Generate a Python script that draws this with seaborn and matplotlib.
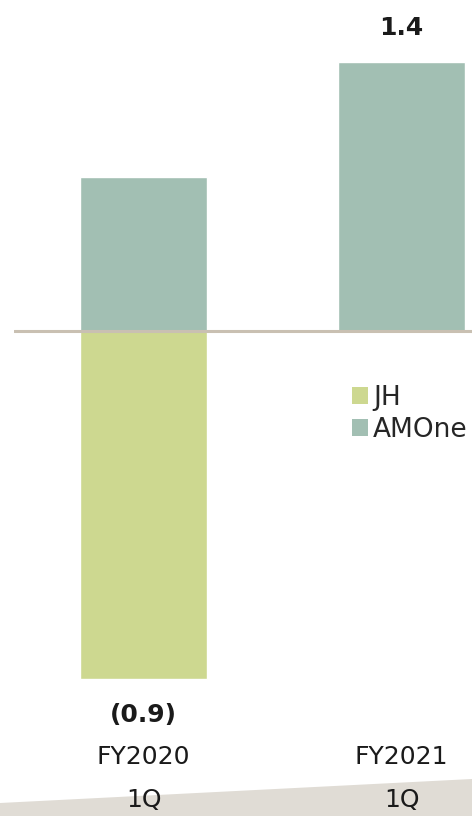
import matplotlib
matplotlib.use("Agg")
import matplotlib.pyplot as plt
import seaborn as sns
import pandas as pd
from matplotlib.patches import Polygon, Patch

# ---- data ----
periods = ["FY2020", "FY2021"]
quarters = ["1Q", "1Q"]
amone = [0.80, 1.40]
jh = [-1.81, 0.0]
total_labels = ["(0.9)", "1.4"]

sns.set_style("white")
plt.rcParams["font.family"] = ["DejaVu Sans"]

C_AMONE = "#a2bfb3"
C_JH = "#cdd890"
C_AXIS = "#c9c0b2"
C_BAND = "#e0dcd5"

fig = plt.figure(figsize=(4.72, 8.16), dpi=100)

ax = fig.add_axes([14 / 472, 0, 458 / 472, 1])
ax.set_facecolor("none")

# background band at bottom
band = Polygon([(0, 1 - 803 / 816), (1, 1 - 779 / 816), (1, 0), (0, 0)],
               closed=True, transform=fig.transFigure, facecolor=C_BAND,
               edgecolor="none", zorder=0, clip_on=False)
ax.add_patch(band)

df_a = pd.DataFrame({"period": periods, "value": amone})
df_j = pd.DataFrame({"period": periods, "value": jh})

sns.barplot(data=df_a, x="period", y="value", color=C_AMONE, saturation=1,
            width=0.492, ax=ax, errorbar=None, zorder=2)
sns.barplot(data=df_j, x="period", y="value", color=C_JH, saturation=1,
            width=0.492, ax=ax, errorbar=None, zorder=2)

ax.axhline(0, color=C_AXIS, lw=2.2, zorder=3)

ax.set_xlim(-0.502, 1.273)
ax.set_ylim(-2.525, 1.723)
for s in ax.spines.values():
    s.set_visible(False)
ax.set_xticks([])
ax.set_yticks([])
ax.set_xlabel("")
ax.set_ylabel("")

fs = 18
TXT = "#1a1a1a"
# total labels
for i, (a, j, lab) in enumerate(zip(amone, jh, total_labels)):
    tot = a + j
    if tot >= 0:
        ax.text(i, a + 0.177, lab, ha="center", va="center", fontsize=fs,
                fontweight="bold", color=TXT, zorder=5)
    else:
        ax.text(i, j - 0.19, lab, ha="center", va="center", fontsize=fs,
                fontweight="bold", color=TXT, zorder=5)

# category labels
for i, (p, q) in enumerate(zip(periods, quarters)):
    ax.text(i, 1 - 757 / 816, p, transform=ax.get_xaxis_transform(),
            ha="center", va="center", fontsize=fs, color=TXT, zorder=5)
    ax.text(i, 1 - 800 / 816, q, transform=ax.get_xaxis_transform(),
            ha="center", va="center", fontsize=fs, color=TXT, zorder=5)

handles = [Patch(facecolor=C_JH, edgecolor="none", label="JH"),
           Patch(facecolor=C_AMONE, edgecolor="none", label="AMOne")]
fig.legend(handles=handles, loc="upper left",
           bbox_to_anchor=(352 / 472, 1 - 385 / 816), frameon=False,
           fontsize=19, handlelength=0.6, handleheight=0.6,
           handletextpad=0.2, borderpad=0, borderaxespad=0,
           labelspacing=0.22)

fig.savefig("out.png", dpi=100)
